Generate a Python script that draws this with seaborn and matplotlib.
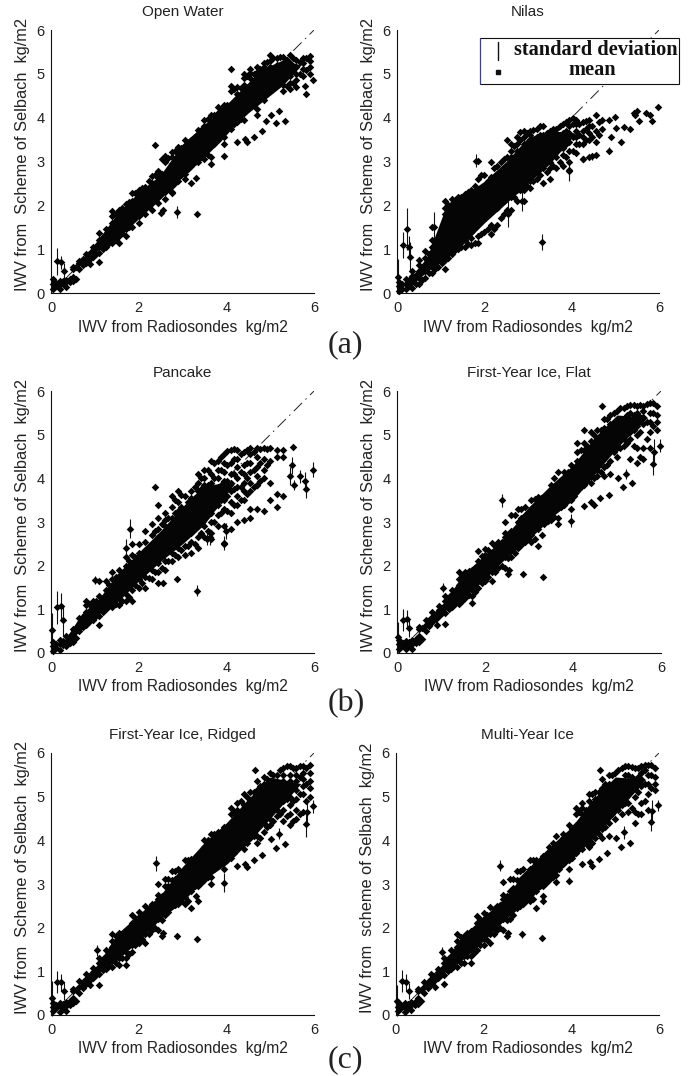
import matplotlib
matplotlib.use("Agg")
import matplotlib.pyplot as plt
from matplotlib.patches import Rectangle
from matplotlib.lines import Line2D
import pandas as pd
import seaborn as sns

grid_x = [0.05,0.2,0.35,0.5,0.65,0.8,0.95,1.1,1.25,1.4,1.55,1.7,1.85,2.0,2.15,2.3,2.45,2.6,2.75,2.9,
          3.05,3.2,3.35,3.5,3.65,3.8,3.95,4.1,4.25,4.4,4.55,4.7,4.85,5.0,5.15,5.3,5.45,5.6,5.75,5.9]
mid_x = [0.125,0.275,0.425,0.575,0.725,0.875,1.025,1.175,1.325,1.475,1.625,1.775,1.925,2.075,2.225,2.375,2.525,2.675,2.825,2.975,
         3.125,3.275,3.425,3.575,3.725,3.875,4.025,4.175,4.325,4.475,4.625,4.775,4.925,5.075,5.225,5.375,5.525,5.675,5.825]

open_water_y = [
 [.1,.2,.32],[.08,.2,.27],[.14,.25,.3],[.28,.36,.55,.6],[.55,.68,.72],[.68,.8,.9],[.82,.95,1.05],
 [.92,1.05,1.2,1.38],[1.05,1.2,1.35,1.47],[1.15,1.3,1.45,1.6,1.75,1.88],[1.15,1.3,1.45,1.6,1.75,1.9],
 [1.3,1.45,1.6,1.75,1.9,2.02],[1.5,1.65,1.8,1.95,2.1,2.27],[1.6,1.75,1.9,2.05,2.2,2.35],
 [1.8,1.95,2.1,2.25,2.42],[1.9,2.05,2.2,2.35,2.5,2.68],[2.05,2.2,2.35,2.5,2.65,2.78],
 [2.15,2.3,2.45,2.6,2.72,3.0,3.12],[2.3,2.45,2.6,2.72,2.95,3.1,3.22],[2.55,2.68,2.8,2.95,3.1,3.25,3.33],
 [2.6,2.72,2.9,3.05,3.2,3.35,3.5],[2.5,2.9,3.05,3.2,3.35,3.5],[3.0,3.15,3.3,3.45,3.6,3.72],
 [3.05,3.2,3.35,3.5,3.65,3.8,3.95],[2.95,3.1,3.45,3.6,3.75,3.9,4.05],[3.5,3.65,3.8,3.95,4.1,4.25],
 [3.4,3.55,3.7,3.85,4.0,4.15,4.3],[3.75,3.9,4.05,4.2,4.6,4.72,5.1],[3.9,4.05,4.2,4.55,4.7],
 [3.95,4.1,4.25,4.6,4.75,4.9,5.0],[4.4,4.6,4.75,4.9,5.02,5.1],[4.05,4.2,4.45,4.6,4.75,4.9,5.05,5.15],
 [4.4,4.55,4.7,4.85,5.0,5.15,5.25],[4.7,4.85,5.0,5.15,5.3,5.42],[4.75,4.9,5.05,5.2,5.35],
 [4.6,4.75,4.9,5.05,5.2,5.38],[4.65,4.8,4.95,5.1,5.25,5.42],[4.7,4.85,5.0,5.15,5.32],[4.95,5.1,5.25,5.35],[5.0,5.15,5.3,5.4]]
open_water_mid = [
 [.15,.22],[.2,.28],[.25,.32],[.33,.6],[.65,.78],[.75,.88],[.9,1.02],[1.0,1.12,1.28],[1.15,1.3,1.43],[1.22,1.52,1.8],
 [1.38,1.68,1.93],[1.5,1.8,2.08],[1.72,2.0,2.28],[1.82,2.12,2.4],[1.98,2.28,2.55],[2.12,2.42,2.7],[2.28,2.58,2.72,3.05],
 [2.38,2.68,3.08],[2.52,2.72,3.02,3.25],[2.7,3.0,3.3],[2.82,3.12,3.42],[3.0,3.3,3.55],[3.1,3.4,3.72],[3.15,3.48,3.75,3.98],
 [3.4,3.7,4.05],[3.6,3.9,4.2],[3.78,4.08,4.3],[3.85,4.12,4.65],[3.98,4.25,4.68],[4.3,4.68,4.95],[4.3,4.68,5.0],
 [4.5,4.82,5.12],[4.75,5.05,5.28],[4.8,5.12,5.35],[4.82,5.12,5.38],[4.72,5.02,5.32],[4.8,5.1,5.35],[5.0,5.28],[5.08,5.35]]
open_water_core_x = [.62,1.1,1.5,2,2.5,3,3.5,3.9,4.3,4.8,5.3,5.7]
open_water_core_lo = [.62,1.0,1.25,1.7,2.15,2.65,3.1,3.5,3.95,4.35,4.75,5.2]
open_water_core_hi = [.68,1.25,1.8,2.3,2.7,3.4,3.85,4.2,4.6,5.1,5.32,5.2]
open_water_out_x = [.14,.22,.3,1.1,.9,2.38,2.5,2.55,2.87,3.32,2.75,3.3,3.95,4.25,4.42,4.47,4.62,4.82,4.9,5.03,5.13,5.2,5.33,5.8,5.82,5.97]
open_water_out_y = [.72,.7,.5,.7,.67,3.37,1.82,1.9,1.85,1.8,2.28,2.63,3.13,3.45,3.52,3.45,3.56,3.7,3.92,4.05,3.88,4.15,3.93,4.72,4.55,4.87]
open_water_out_e = [.3,.15,.18,.03,.03,.03,.03,.03,.14,.04,.03,.05,.04,.03,.03,.03,.03,.03,.03,.03,.03,.03,.03,.05,.05,.03]

nilas_y = [
 [.05,.15,.25],[.1,.2,.32],[.12,.25,.38,.5],[.2,.35,.5,.65,.75],[.35,.5,.65,.8,.95],[.45,.6,.75,.9,1.05,1.2,1.5],
 [.6,.75,.9,1.05,1.2],[.55,.75,.9,1.05,1.2,1.35,1.5,1.65,1.8,1.95,2.1],[.9,1.05,1.2,1.35,1.5,1.65,1.8,1.95,2.15],
 [1.0,1.15,1.3,1.45,1.6,1.75,1.9,2.05,2.2],[1.05,1.2,1.35,1.5,1.65,1.8,1.95,2.1,2.25],
 [1.1,1.25,1.4,1.55,1.7,1.85,2.0,2.15,2.35],[1.15,1.3,1.6,1.75,1.9,2.05,2.2,2.35,2.6,3.02],
 [1.4,1.7,1.85,2.0,2.15,2.3,2.45,2.7],[1.35,1.55,1.9,2.05,2.2,2.35,2.5,2.65,3.0],
 [1.55,1.95,2.1,2.25,2.4,2.55,2.7,2.9],[1.8,2.1,2.25,2.4,2.55,2.7,2.85,3.05],
 [1.9,2.2,2.35,2.5,2.65,2.8,2.95,3.1,3.25,3.4],[2.1,2.35,2.5,2.65,2.8,2.95,3.1,3.25,3.4,3.55],
 [2.1,2.35,2.5,2.65,2.8,2.95,3.1,3.25,3.4,3.55,3.7],[2.4,2.55,2.7,2.85,3.0,3.15,3.3,3.45,3.6,3.7],
 [2.6,2.8,2.95,3.1,3.25,3.4,3.55,3.75],[2.5,2.85,3.0,3.15,3.3,3.45,3.6,3.8],[2.6,2.85,3.0,3.3,3.45,3.6,3.7],
 [2.85,3.1,3.25,3.4,3.55,3.75],[2.9,3.15,3.3,3.5,3.65,3.85],[2.8,3.0,3.25,3.45,3.65,3.8,3.95],
 [3.2,3.4,3.55,3.7,3.85,3.95],[3.05,3.4,3.55,3.7,3.9],[3.1,3.5,3.65,3.8,3.95],[3.15,3.45,3.7,4.05],[3.95,3.75],[3.95],[4.02]]
nilas_grid = grid_x[:34]
nilas_mid = [
 [.1,.2],[.15,.3],[.2,.42],[.3,.6],[.45,.75,.9],[.55,.85,1.12],[.68,.98,1.15],[.8,1.1,1.4,1.7,2.0],[.98,1.28,1.58,1.88,2.12],
 [1.05,1.35,1.65,1.95,2.2],[1.12,1.42,1.72,2.02,2.3],[1.15,1.5,1.8,2.1,2.45],[1.35,1.8,2.1,2.4,2.7],[1.45,1.95,2.25,2.55],
 [1.45,2.0,2.3,2.6,2.85],[1.7,2.15,2.45,2.75,3.0],[1.9,2.2,2.5,2.8,3.1,3.5],[2.2,2.45,2.75,3.05,3.35],[2.35,2.6,2.9,3.2,3.5,3.68],
 [2.45,2.75,3.05,3.35,3.65],[2.55,2.85,3.15,3.45,3.72],[2.7,3.0,3.3,3.6,3.8],[2.75,3.05,3.35,3.65],[2.9,3.2,3.5,3.75],
 [3.0,3.3,3.6,3.8],[3.1,3.4,3.7,3.9],[3.25,3.55,3.85,4.0],[3.4,3.6,3.85],[3.5,3.75,3.92],[3.55,3.8],[3.6,3.9]]
nilas_core_x = [.3,.7,1.15,1.5,2,2.5,3,3.5,4.1]
nilas_core_lo = [.15,.5,.8,1.1,1.6,2.05,2.5,2.95,3.65]
nilas_core_hi = [.3,.85,2.05,2.2,2.55,3.0,3.55,3.7,3.65]
nilas_out_x = [.02,.14,.22,.28,.3,.85,1.8,2.55,2.87,3.33,3.95,4.25,4.47,4.85,4.9,5.02,5.13,5.2,5.33,5.42,5.45,5.5,5.55,5.7,5.8,5.85,5.97]
nilas_out_y = [.37,1.1,1.45,1.05,.82,1.5,3.02,1.8,2.1,1.17,2.78,3.05,3.12,3.25,3.55,3.77,3.45,3.78,3.75,4.1,4.05,4.15,3.92,4.1,4.05,3.92,4.25]
nilas_out_e = [.4,.3,.48,.25,.35,.35,.15,.3,.22,.18,.22,.03,.08,.08,.03,.03,.07,.03,.03,.03,.03,.05,.03,.03,.03,.05,.03]

pancake_y = [
 [.05,.15,.25],[.08,.2,.3],[.15,.25,.4],[.25,.4,.55],[.5,.65,.8],[.65,.8,.95,1.1,1.2],[.75,.9,1.05,1.2],
 [.85,1.0,1.15,1.3,1.65],[1.0,1.15,1.3,1.45,1.65],[1.05,1.2,1.35,1.5,1.7,1.85],[1.1,1.25,1.4,1.55,1.7,1.9],
 [1.2,1.35,1.5,1.65,1.8,2.0,2.2],[1.2,1.45,1.65,1.85,2.05,2.25,2.5],[1.5,1.7,1.9,2.1,2.3,2.5],
 [1.5,1.75,1.95,2.15,2.35,2.55,2.8],[1.7,1.9,2.1,2.3,2.5,2.7,2.95],[1.6,1.85,2.05,2.25,2.45,2.65,2.85,3.1,3.4],
 [1.9,2.1,2.3,2.5,2.7,2.9,3.05,3.2],[2.1,2.3,2.5,2.7,2.9,3.1,3.35,3.6],[2.2,2.4,2.65,2.85,3.05,3.25,3.45,3.7],
 [2.25,2.45,2.7,2.9,3.1,3.3,3.6],[2.3,2.55,2.75,3.0,3.2,3.4,3.55,3.7],[2.4,2.65,2.9,3.1,3.3,3.5,3.7,3.9,4.1],
 [2.65,2.9,3.1,3.3,3.5,3.7,3.85,4.0,4.2],[2.6,2.75,3.0,3.2,3.45,3.7,3.9,4.1,4.4],[2.9,3.15,3.4,3.6,3.8,4.0,4.2,4.4],
 [2.5,2.9,3.3,3.5,3.75,3.95,4.15,4.35,4.55],[2.85,3.2,3.45,3.7,3.9,4.1,4.35,4.65],[3.0,3.4,3.6,3.8,4.0,4.25,4.45,4.65],
 [3.05,3.5,3.7,3.9,4.1,4.3,4.6],[3.1,3.3,3.7,3.9,4.15,4.35,4.55,4.7],[3.3,3.85,4.05,4.25,4.5,4.7],
 [3.25,4.0,4.2,4.45,4.7],[3.5,3.9,4.4,4.7],[3.35,3.65,4.5,4.65],[3.6,4.5,4.65]]
pancake_grid = grid_x[:36]
pancake_mid = [
 [.12,.2],[.18,.28],[.22,.3],[.35,.5],[.6,.72],[.72,.88,1.12],[.85,1.0,1.2],[.95,1.1,1.25],[1.08,1.25,1.55],[1.12,1.4,1.75],
 [1.2,1.5,1.82],[1.28,1.58,1.9,2.1],[1.55,1.85,2.2],[1.6,1.92,2.25],[1.72,2.02,2.35],[1.85,2.15,2.5,2.8],[1.95,2.3,2.6,2.95],
 [2.1,2.4,2.75,3.1],[2.25,2.55,2.85,3.2,3.5],[2.35,2.65,3.0,3.35,3.62],[2.45,2.75,3.1,3.45],[2.5,2.85,3.2,3.55,3.8],
 [2.75,3.05,3.4,3.75,4.0],[2.8,3.15,3.5,3.85,4.2],[3.0,3.35,3.65,4.0,4.35],[3.2,3.5,3.85,4.2,4.5],[3.25,3.6,3.95,4.3,4.62],
 [3.4,3.75,4.1,4.45,4.68],[3.5,3.8,4.15,4.55],[3.65,4.0,4.35,4.65],[3.8,4.2,4.6],[3.95,4.35,4.68],[4.3,4.68]]
pancake_core_x = [.3,.7,1.1,1.5,2,2.5,3,3.5,4.2]
pancake_core_lo = [.18,.55,.9,1.15,1.65,2.1,2.5,2.95,3.9]
pancake_core_hi = [.28,.9,1.25,1.8,2.3,2.8,3.35,3.85,3.9]
pancake_out_x = [.02,.14,.22,.28,1.1,1.0,2.38,2.55,1.8,1.7,2.87,3.32,3.57,3.62,3.95,4.0,4.7,5.45,5.5,5.52,5.55,5.68,5.8,5.82,5.97]
pancake_out_y = [.52,1.05,1.07,.75,.65,1.67,3.8,1.6,2.85,2.4,1.7,1.43,2.62,2.65,2.52,2.8,3.85,4.05,4.3,4.72,3.85,4.05,3.95,3.75,4.2]
pancake_out_e = [.4,.38,.3,.35,.03,.1,.03,.07,.22,.2,.03,.12,.15,.18,.15,.18,.03,.2,.2,.03,.12,.15,.2,.2,.18]

flat_y = [
 [.1,.2,.3],[.1,.2,.27],[.1,.2,.3],[.25,.4,.55,.6],[.5,.65,.75],[.7,.82,.95],[.85,.98,1.08],
 [.92,1.05,1.2,1.3],[1.05,1.2,1.35,1.45],[1.12,1.25,1.4,1.55,1.7,1.85],[1.25,1.4,1.55,1.7,1.85],
 [1.15,1.3,1.45,1.6,1.75,1.9],[1.5,1.65,1.8,1.95,2.1,2.33],[1.65,1.8,1.95,2.1,2.25,2.38],
 [1.65,1.85,2.0,2.15,2.3,2.52],[1.95,2.1,2.25,2.4,2.55],[1.95,2.2,2.35,2.5,2.65,2.75,3.0],
 [2.2,2.35,2.5,2.65,2.8,3.15],[2.4,2.55,2.7,2.85,3.0,3.3],[2.55,2.7,2.85,3.0,3.15,3.35],
 [2.55,2.7,2.85,3.0,3.15,3.3,3.5],[2.45,2.85,3.0,3.15,3.3,3.45,3.58],[2.95,3.1,3.25,3.4,3.55],
 [3.05,3.2,3.35,3.5,3.65,3.85],[2.95,3.1,3.4,3.55,3.7,3.85,4.15],[3.4,3.55,3.7,3.85,4.0,4.15],
 [3.3,3.5,3.65,3.8,3.95,4.1,4.3],[3.7,3.9,4.05,4.2,4.4,4.6,4.8],[3.85,4.0,4.2,4.45,4.65,4.8,5.1],
 [3.9,4.05,4.25,4.55,4.7,4.85,5.05],[4.05,4.2,4.45,4.6,4.75,4.9,5.1],[4.05,4.25,4.5,4.65,4.8,4.95,5.15,5.35],
 [4.1,4.4,4.6,4.75,4.9,5.1,5.25,5.45],[4.5,4.7,4.85,5.0,5.15,5.3,5.55],[4.75,4.9,5.05,5.2,5.35,5.6],
 [4.45,4.9,5.05,5.2,5.35,5.5,5.68],[4.35,4.7,5.0,5.2,5.35,5.5,5.65],[4.45,4.7,5.25,5.4,5.55,5.65],
 [4.7,5.05,5.3,5.5,5.72],[5.1,5.3,5.45,5.65]]
flat_mid = [
 [.15,.22],[.15,.25],[.22,.32],[.33,.58],[.62,.75],[.78,.9],[.92,1.03],[1.0,1.15,1.28],[1.12,1.3,1.42],[1.2,1.5,1.78],
 [1.32,1.62,1.88],[1.4,1.72,1.95],[1.6,1.9,2.22],[1.75,2.05,2.35],[1.85,2.2,2.45],[2.0,2.3,2.55],[2.18,2.48,2.72],
 [2.3,2.6,2.85,3.15],[2.48,2.78,3.1,3.3],[2.62,2.92,3.22],[2.62,2.95,3.25,3.52],[2.95,3.25,3.55],[3.02,3.32,3.62],
 [3.12,3.45,3.78,4.0],[3.35,3.65,3.95],[3.55,3.85,4.15],[3.6,3.9,4.22],[3.8,4.1,4.65],[3.95,4.3,4.75],[4.0,4.35,4.7,5.0],
 [4.15,4.5,4.8,5.1],[4.3,4.7,5.05,5.35],[4.6,4.95,5.2,5.5],[4.7,5.05,5.35,5.6],[4.8,5.15,5.45,5.65],[4.75,5.1,5.45,5.68],
 [4.5,5.05,5.4,5.68],[4.9,5.3,5.7],[5.2,5.5,5.72]]
flat_core_x = [.6,1.1,1.5,2,2.5,3,3.5,4,4.5,5,5.7]
flat_core_lo = [.58,.98,1.25,1.7,2.2,2.6,3.1,3.5,4.1,4.7,5.4]
flat_core_hi = [.65,1.2,1.8,2.25,2.7,3.35,3.85,4.3,4.95,5.45,5.4]
flat_out_x = [.02,.14,.22,.28,1.1,.9,1.05,2.38,2.53,2.55,2.87,3.32,3.3,3.95,4.25,4.42,4.47,4.62,4.82,4.65,5.03,5.13,5.2,5.33,5.82,5.85,5.97]
flat_out_y = [.37,.75,.77,.57,.67,.65,1.5,3.5,1.8,1.9,1.8,1.75,2.7,3.03,3.37,3.45,3.38,3.55,3.62,5.65,4.0,3.8,4.1,3.9,4.32,4.6,4.75]
flat_out_e = [.35,.25,.22,.2,.03,.03,.1,.15,.03,.03,.06,.03,.03,.15,.03,.03,.05,.03,.03,.03,.03,.03,.12,.03,.25,.3,.15]

ridged_y = [
 [.1,.18,.28],[.08,.2,.28],[.1,.2,.3],[.28,.4,.55,.6],[.5,.65,.78],[.7,.82,.95],[.85,.98,1.08],
 [.95,1.08,1.2,1.3],[1.05,1.2,1.35,1.5],[1.1,1.25,1.4,1.55,1.7,1.85],[1.15,1.3,1.45,1.6,1.75,1.88],
 [1.15,1.3,1.45,1.6,1.75,1.9],[1.45,1.6,1.75,1.9,2.1,2.3],[1.65,1.8,1.95,2.1,2.25,2.35],
 [1.65,1.85,2.0,2.15,2.3,2.5],[1.95,2.1,2.25,2.4,2.55],[1.95,2.2,2.35,2.5,2.65,2.75,3.0],
 [2.3,2.45,2.6,2.75,2.95,3.12],[2.5,2.65,2.8,2.95,3.1,3.3],[2.55,2.7,2.85,3.0,3.15,3.35],
 [2.55,2.7,2.85,3.0,3.15,3.3,3.55],[2.45,2.85,3.0,3.15,3.3,3.45,3.58],[2.6,2.95,3.1,3.25,3.4,3.65],
 [3.1,3.25,3.4,3.55,3.7,3.85,4.0],[3.0,3.15,3.45,3.6,3.75,3.9,4.15],[3.45,3.6,3.75,3.9,4.05,4.2],
 [3.35,3.5,3.65,3.8,3.95,4.1,4.3],[3.6,3.75,3.9,4.05,4.3,4.6,4.75],[3.8,3.95,4.1,4.3,4.55,4.7,4.85],
 [3.8,3.95,4.15,4.5,4.65,4.8,5.05],[4.05,4.2,4.45,4.6,4.75,4.9,5.1],[3.95,4.1,4.35,4.55,4.7,4.85,5.0,5.15,5.35],
 [4.2,4.4,4.55,4.7,4.85,5.0,5.15,5.3,5.45],[4.35,4.5,4.7,4.85,5.0,5.15,5.3,5.55],[4.55,4.7,4.85,5.0,5.15,5.3,5.5],
 [4.45,4.7,4.9,5.05,5.2,5.35,5.5,5.65],[4.35,4.6,4.8,5.0,5.2,5.35,5.5,5.7],[4.5,4.7,4.95,5.15,5.35,5.5,5.65],
 [4.65,5.05,5.25,5.4,5.55,5.7],[5.0,5.2,5.35,5.55,5.72]]
ridged_mid = [
 [.15,.22],[.15,.25],[.22,.32],[.33,.58],[.62,.75],[.78,.9],[.92,1.03],[1.02,1.15,1.28],[1.12,1.3,1.45],[1.18,1.5,1.8],
 [1.3,1.62,1.85],[1.4,1.72,1.95],[1.6,1.9,2.22],[1.75,2.05,2.3],[1.85,2.2,2.45],[2.0,2.3,2.55],[2.18,2.48,2.72],
 [2.35,2.65,2.95,3.12],[2.52,2.82,3.12,3.3],[2.62,2.92,3.22],[2.62,2.95,3.25,3.55],[2.95,3.25,3.55],[3.02,3.32,3.65],
 [3.15,3.45,3.78,4.0],[3.35,3.65,3.95,4.15],[3.55,3.85,4.15],[3.55,3.85,4.22],[3.7,4.0,4.65],[3.9,4.2,4.65,4.9],[3.95,4.3,4.7,5.0],
 [4.1,4.5,4.85,5.1],[4.05,4.45,4.8,5.25],[4.3,4.65,5.0,5.4],[4.45,4.8,5.15,5.5],[4.6,4.95,5.25,5.6],[4.55,4.95,5.3,5.7],
 [4.45,4.9,5.25,5.65],[4.6,5.05,5.45,5.7],[4.9,5.3,5.65]]
ridged_core_x = [.6,1.1,1.5,2,2.5,3,3.5,4,4.5,5,5.7]
ridged_core_lo = [.58,.98,1.25,1.7,2.2,2.6,3.1,3.45,3.95,4.5,5.3]
ridged_core_hi = [.65,1.2,1.85,2.3,2.75,3.4,3.95,4.4,4.95,5.45,5.3]
ridged_out_x = [.02,.14,.22,.3,1.1,.9,1.05,2.4,2.53,2.55,2.87,3.33,3.3,3.95,4.25,4.42,4.47,4.62,4.82,4.65,5.03,5.13,5.2,5.33,5.82,5.85,5.97]
ridged_out_y = [.38,.75,.75,.55,.68,.68,1.48,3.47,1.8,1.88,1.8,1.75,2.72,3.03,3.42,3.45,3.4,3.55,3.67,5.6,4.03,3.82,4.15,3.92,4.37,4.65,4.78]
ridged_out_e = [.4,.25,.2,.2,.03,.03,.12,.17,.03,.03,.07,.06,.05,.22,.07,.03,.05,.03,.03,.03,.03,.05,.13,.03,.3,.3,.15]

multi_y = [
 [.1,.18,.3],[.08,.18,.27],[.12,.22,.3],[.25,.38,.55,.6],[.5,.65,.75],[.7,.82,.95],[.85,.98,1.05],
 [.92,1.05,1.2,1.3],[1.05,1.2,1.35,1.5],[1.1,1.25,1.4,1.55,1.7,1.85],[1.2,1.35,1.5,1.65,1.8],
 [1.2,1.35,1.5,1.65,1.8,1.92],[1.5,1.65,1.8,1.95,2.1,2.27],[1.6,1.75,1.9,2.05,2.2,2.33],
 [1.65,1.85,2.0,2.15,2.3,2.48],[1.95,2.1,2.25,2.4,2.5],[1.95,2.2,2.35,2.5,2.65,2.75,3.05],
 [2.2,2.35,2.5,2.65,2.85,3.12],[2.45,2.6,2.75,2.9,3.1,3.3],[2.55,2.7,2.85,3.0,3.15,3.35],
 [2.6,2.75,2.9,3.05,3.2,3.35,3.55],[2.45,2.85,3.0,3.15,3.3,3.45,3.55],[2.6,2.95,3.1,3.25,3.4,3.65],
 [3.1,3.25,3.4,3.55,3.7,3.85],[3.05,3.2,3.45,3.6,3.75,3.9,4.1],[3.45,3.6,3.75,3.9,4.05,4.15],
 [3.35,3.55,3.7,3.85,4.0,4.15,4.35],[3.7,3.85,4.0,4.15,4.35,4.6,4.75],[3.8,3.95,4.1,4.3,4.6,4.75,4.85],
 [3.85,4.0,4.2,4.55,4.7,4.9,5.05],[4.05,4.2,4.5,4.65,4.8,4.95,5.1],[4.05,4.25,4.5,4.65,4.85,5.05,5.2,5.4],
 [4.1,4.4,4.6,4.75,4.9,5.1,5.3,5.5],[4.5,4.7,4.85,5.0,5.15,5.3,5.55],[4.6,4.8,4.95,5.1,5.3,5.65],
 [4.65,4.85,5.05,5.2,5.35,5.5,5.7],[4.4,4.65,5.0,5.2,5.35,5.65],[4.6,4.85,5.25,5.4,5.55,5.7],
 [4.7,5.05,5.3,5.5,5.72],[5.15,5.3,5.45,5.65]]
multi_mid = [
 [.15,.22],[.15,.25],[.22,.3],[.33,.58],[.62,.75],[.78,.9],[.92,1.02],[1.0,1.15,1.28],[1.12,1.3,1.45],[1.2,1.5,1.78],
 [1.35,1.65,1.88],[1.42,1.72,1.95],[1.6,1.9,2.2],[1.72,2.02,2.3],[1.85,2.15,2.42],[2.0,2.3,2.52],[2.18,2.48,2.72],
 [2.3,2.6,2.9,3.12],[2.5,2.8,3.1,3.3],[2.62,2.92,3.22],[2.65,2.95,3.25,3.55],[2.95,3.25,3.52],[3.02,3.32,3.65],
 [3.15,3.45,3.78,3.95],[3.35,3.65,3.95],[3.55,3.85,4.1],[3.6,3.9,4.25],[3.8,4.1,4.65],[3.95,4.25,4.7],[3.95,4.3,4.75,5.05],
 [4.15,4.5,4.85,5.1],[4.3,4.7,5.1,5.3],[4.6,4.95,5.25,5.5],[4.7,5.05,5.35,5.6],[4.85,5.2,5.5,5.7],[4.75,5.15,5.45,5.68],
 [4.6,5.1,5.45,5.65],[4.9,5.3,5.6,5.72],[5.2,5.5,5.72]]
multi_core_x = [.6,1.1,1.5,2,2.5,3,3.5,4,4.5,5,5.7]
multi_core_lo = [.58,.98,1.25,1.7,2.2,2.6,3.1,3.55,4.05,4.6,5.4]
multi_core_hi = [.65,1.2,1.8,2.25,2.7,3.35,3.85,4.3,4.95,5.45,5.4]
multi_out_x = [.02,.14,.22,.3,1.1,.9,1.05,2.38,2.53,2.55,2.87,3.32,3.35,3.95,4.25,4.42,4.47,4.62,4.82,4.65,5.03,5.13,5.2,5.33,5.82,5.85,5.97]
multi_out_y = [.33,.77,.75,.55,.7,.65,1.45,3.42,1.82,1.87,1.85,1.77,2.72,3.08,3.45,3.5,3.42,3.58,3.7,5.62,4.05,3.85,4.18,3.95,4.42,4.67,4.8]
multi_out_e = [.35,.25,.2,.18,.03,.03,.1,.12,.03,.03,.08,.03,.05,.07,.03,.03,.05,.03,.03,.03,.03,.03,.15,.03,.2,.25,.12]

titles = ["Open Water", "Nilas", "Pancake", "First-Year Ice, Flat", "First-Year Ice, Ridged", "Multi-Year Ice"]
tick_x = [0, 2, 4, 6]
tick_y = [0, 1, 2, 3, 4, 5, 6]
diag = [0, 6]
x_text = "IWV from Radiosondes  kg/m2"
y_texts = ["IWV from  Scheme of Selbach  kg/m2"] * 5 + ["IWV from  scheme of Selbach  kg/m2"]
panel_labels = ["(a)", "(b)", "(c)"]
legend_texts = ["standard deviation", "mean"]

panels = [
 (grid_x, open_water_y, open_water_mid, open_water_core_x, open_water_core_lo, open_water_core_hi, open_water_out_x, open_water_out_y, open_water_out_e),
 (nilas_grid, nilas_y, nilas_mid, nilas_core_x, nilas_core_lo, nilas_core_hi, nilas_out_x, nilas_out_y, nilas_out_e),
 (pancake_grid, pancake_y, pancake_mid, pancake_core_x, pancake_core_lo, pancake_core_hi, pancake_out_x, pancake_out_y, pancake_out_e),
 (grid_x, flat_y, flat_mid, flat_core_x, flat_core_lo, flat_core_hi, flat_out_x, flat_out_y, flat_out_e),
 (grid_x, ridged_y, ridged_mid, ridged_core_x, ridged_core_lo, ridged_core_hi, ridged_out_x, ridged_out_y, ridged_out_e),
 (grid_x, multi_y, multi_mid, multi_core_x, multi_core_lo, multi_core_hi, multi_out_x, multi_out_y, multi_out_e),
]

W, H = 689, 1076
boxes = [(51,314,30,293),(397,659,30,293),(51,314,391,653),(397,661,391,653),(51,314,753,1015),(396,659,753,1015)]

sns.set_theme(style="white")
plt.rcParams["font.family"] = ["Liberation Sans", "DejaVu Sans"]
fig = plt.figure(figsize=(W/100, H/100), dpi=100, facecolor="white")

for i, (gx, cols, mids, cx, clo, chi, ox, oy, oe) in enumerate(panels):
    l, r, t, b = boxes[i]
    ax = fig.add_axes([l/W, 1-b/H, (r-l)/W, (b-t)/H])
    ax.plot(diag, diag, color="#222222", lw=0.7, ls=(0, (12, 5, 1.5, 5)), zorder=1)
    ax.fill_between(cx, clo, chi, color="#050505", lw=0, zorder=2)
    xs = [x for x, c in zip(gx, cols) for _ in c] + [x for x, c in zip(mid_x, mids) for _ in c]
    ys = [v for c in cols for v in c] + [v for c in mids for v in c]
    df = pd.DataFrame({"x": xs + ox, "y": ys + oy})
    ax.errorbar(ox, oy, yerr=oe, fmt="none", ecolor="#111111", elinewidth=0.8, zorder=2, clip_on=False)
    sns.scatterplot(data=df, x="x", y="y", marker="D", s=15, color="#050505", linewidth=0,
                    ax=ax, zorder=3, clip_on=False, legend=False)
    ax.set_xlim(0, 6); ax.set_ylim(0, 6)
    ax.set_xticks(tick_x); ax.set_yticks(tick_y)
    ax.tick_params(direction="in", length=2.5, width=0.7, labelsize=10.5, color="#111111",
                   labelcolor="#222222")
    ax.tick_params(axis="x", pad=6)
    ax.tick_params(axis="y", pad=4.5)
    sns.despine(ax=ax)
    for s in ["left", "bottom"]:
        ax.spines[s].set_linewidth(0.8); ax.spines[s].set_color("#111111")
    ax.patch.set_alpha(0)
    ax.set_xlabel(x_text, fontsize=11.2, color="#222222", labelpad=3)
    ax.set_ylabel(y_texts[i], fontsize=11.8, color="#222222")
    ax.yaxis.set_label_coords(-0.08, 0.525)
    ax.set_title(titles[i], fontsize=11, color="#222222", pad=10)

for (x, y), s in zip([(345, 345), (346, 704), (345, 1060)], panel_labels):
    fig.text(x/W, 1-y/H, s, family="Liberation Serif", fontsize=23, color="#222222", ha="center", va="center")

# legend box inside the Nilas panel
fig.add_artist(Rectangle((480/W, 1-84/H), 199/W, 46/H, transform=fig.transFigure, fc="white", ec="#111111", lw=0.8, zorder=10))
fig.add_artist(Line2D([480/W, 480/W], [1-84/H, 1-38/H], color="#3b3ba8", lw=0.8, zorder=11))
fig.add_artist(Line2D([498/W, 498/W], [1-60/H, 1-42/H], color="#111111", lw=1.0, zorder=11))
fig.add_artist(Line2D([498/W], [1-72/H], marker="s", ms=3, color="#111111", lw=0, zorder=11))
fig.text(596/W, 1-50/H, legend_texts[0], family="Liberation Serif", fontsize=14.7, fontweight="bold", color="#111111", ha="center", va="center", zorder=12)
fig.text(592/W, 1-70/H, legend_texts[1], family="Liberation Serif", fontsize=14.7, fontweight="bold", color="#111111", ha="center", va="center", zorder=12)

fig.savefig("out.png", dpi=100)
